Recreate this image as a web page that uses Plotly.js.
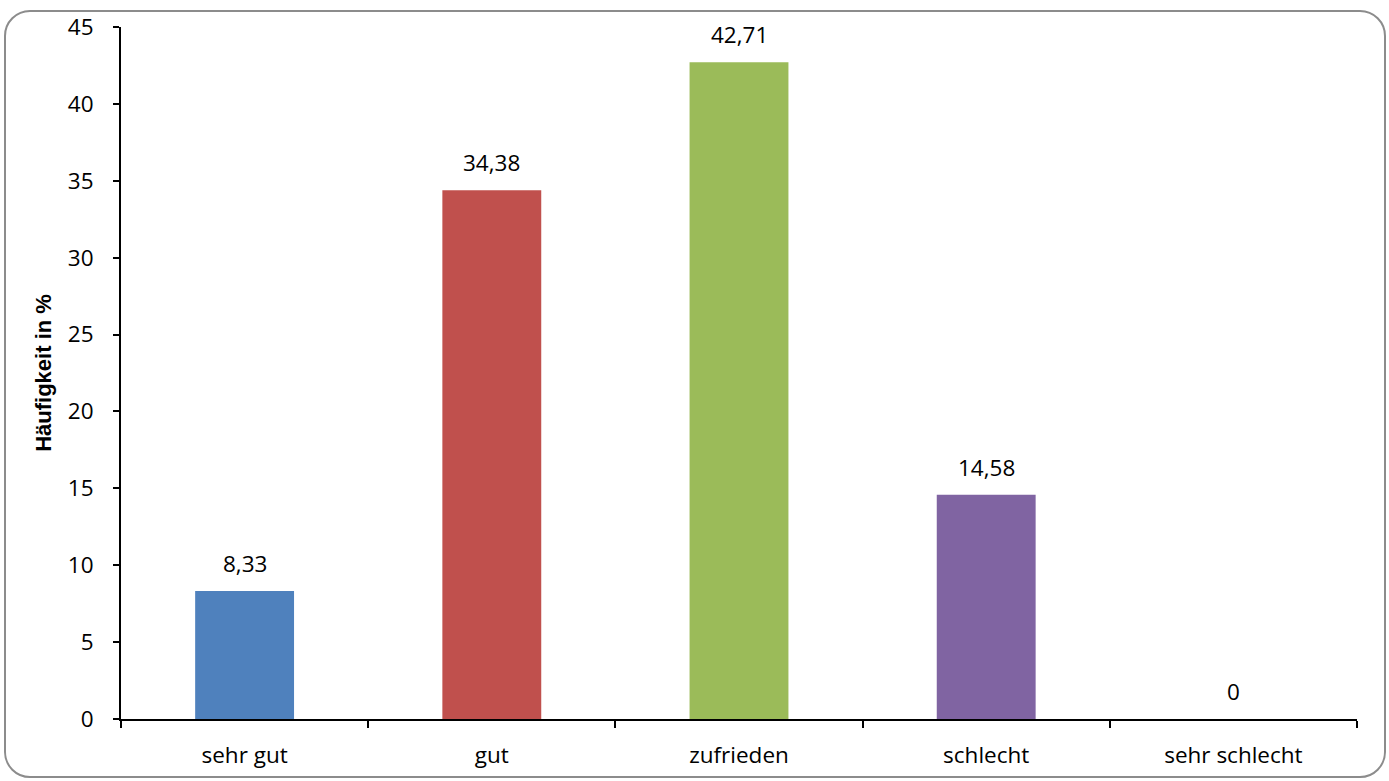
<!DOCTYPE html>
<html>
<head>
<meta charset="utf-8">
<script src="https://cdn.plot.ly/plotly-3.0.1.min.js"></script>
<style>
html,body{margin:0;padding:0;background:#fff;}
#chart{width:1389px;height:781px;}
#frame{position:absolute;left:4px;top:10px;width:1378px;height:764px;border:2px solid #8c8c8c;border-radius:26px;pointer-events:none;}
</style>
</head>
<body>
<div id="chart"></div>
<div id="frame"></div>
<script>
const categories = ["sehr gut", "gut", "zufrieden", "schlecht", "sehr schlecht"];
const values = [8.33, 34.38, 42.71, 14.58, 0];
const barColors = ["#4F81BD", "#C0504D", "#9BBB59", "#8064A2", "#4BACC6"];
const yTitle = "Häufigkeit in %";

const labels = values.map(v => v === 0 ? "0" : v.toFixed(2).replace(".", ","));

const trace = {
  type: "bar",
  x: categories,
  y: values,
  marker: {color: barColors},
  hoverinfo: "x+y"
};

const annotations = categories.map((c, i) => ({
  x: c, y: values[i], xref: "x", yref: "y",
  text: labels[i], showarrow: false,
  yanchor: "bottom", yshift: 10,
  font: {family: "Open Sans, sans-serif", size: 22.5, color: "#000"}
}));

const layout = {
  width: 1389, height: 781,
  margin: {l: 121, r: 32, t: 27, b: 62},
  paper_bgcolor: "rgba(0,0,0,0)",
  plot_bgcolor: "#fff",
  bargap: 0.6,
  showlegend: false,
  font: {family: "Open Sans, sans-serif", size: 22.5, color: "#000"},
  xaxis: {
    type: "category",
    showline: true, linecolor: "#000", linewidth: 2,
    ticks: "outside", tickson: "boundaries", ticklen: 7, tickwidth: 2, tickcolor: "#000",
    showgrid: false, zeroline: false,
    ticklabelstandoff: 15,
    tickfont: {size: 22.5}
  },
  yaxis: {
    range: [0, 45], dtick: 5, tick0: 0,
    showline: true, linecolor: "#000", linewidth: 2,
    ticks: "outside", ticklen: 6, tickwidth: 2, tickcolor: "#000",
    showgrid: false, zeroline: false,
    ticklabelstandoff: 15,
    tickfont: {size: 22.5},
    title: {text: yTitle, font: {family: "Liberation Sans, Arial, sans-serif", size: 22, color: "#000", weight: "bold"}, standoff: 10}
  },
  annotations: annotations
};

Plotly.newPlot("chart", [trace], layout, {displayModeBar: false, staticPlot: true});
</script>
</body>
</html>
